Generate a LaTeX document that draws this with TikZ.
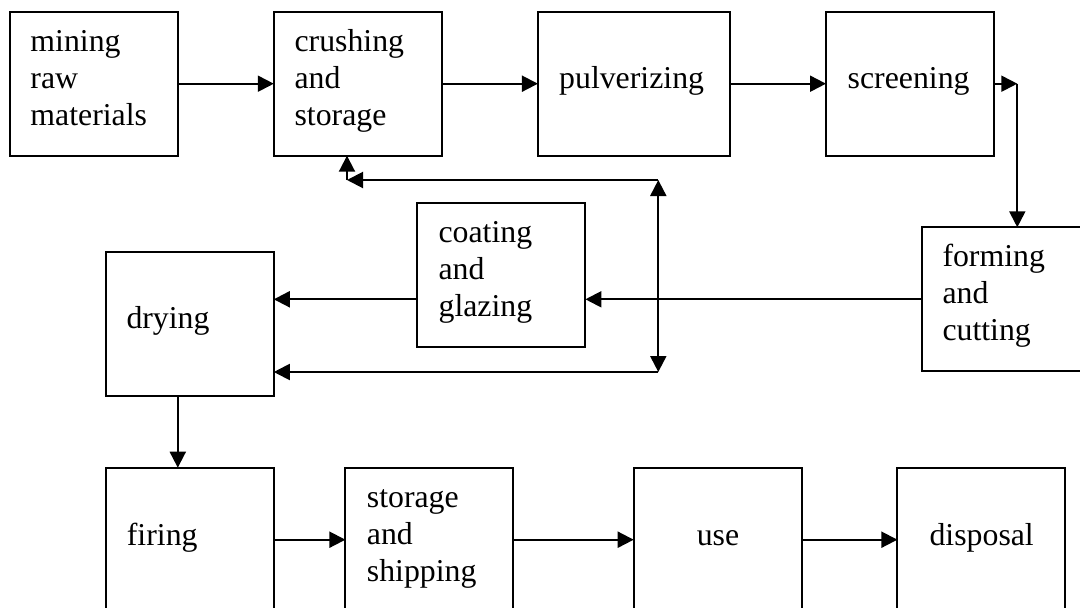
\documentclass[tikz,border=0pt]{standalone}
\usepackage{fontspec}
\setmainfont{Liberation Serif}
\usetikzlibrary{arrows.meta}
\begin{document}
\begin{tikzpicture}[x=1pt,y=-1pt,
  box/.style={draw,line width=2pt,rectangle,minimum width=168pt,minimum height=144pt,inner sep=0pt,outer sep=0pt,anchor=north west},
  lbl/.style={anchor=base west,inner sep=0pt,font=\fontsize{31.8}{37}\selectfont},
  clbl/.style={anchor=base,inner sep=0pt,font=\fontsize{31.8}{37}\selectfont},
  arr/.style={line width=2pt,-{Triangle[length=16pt,width=16pt]}},
  darr/.style={line width=2pt,{Triangle[length=16pt,width=16pt]}-{Triangle[length=16pt,width=16pt]}}]
\useasboundingbox (0,0) rectangle (1080,608);
\clip (0,0) rectangle (1080,608);
% boxes
\node[box] (mining) at (9.6,11.7) {};
\node[box] (crushing) at (273.8,11.7) {};
\node[box,minimum width=192pt] (pulverizing) at (537.9,11.7) {};
\node[box] (screening) at (826,11.7) {};
\node[box] (coating) at (417.4,203.3) {};
\node[box] (drying) at (105.8,251.7) {};
\node[box,minimum width=200pt] (forming) at (921.7,227.3) {};
\node[box] (firing) at (105.7,467.7) {};
\node[box] (storage) at (345.4,467.7) {};
\node[box] (use) at (633.7,467.7) {};
\node[box] (disposal) at (897.4,467.7) {};
% texts
\node[lbl] (mining-t) at (30.3,51.4) {\vtop{\hbox{mining}\hbox{raw}\hbox{materials}}};
\node[lbl] (crushing-t) at (294.4,51.4) {\vtop{\hbox{crushing}\hbox{and}\hbox{storage}}};
\node[lbl] (pulverizing-t) at (559,88.3) {pulverizing};
\node[lbl] (screening-t) at (847.5,88.3) {screening};
\node[lbl] (coating-t) at (438.4,242.6) {\vtop{\hbox{coating}\hbox{and}\hbox{glazing}}};
\node[lbl] (drying-t) at (126.3,328.5) {drying};
\node[lbl] (forming-t) at (942.3,266.5) {\vtop{\hbox{forming}\hbox{and}\hbox{cutting}}};
\node[lbl] (firing-t) at (126.7,545) {firing};
\node[lbl] (storage-t) at (366.7,507) {\vtop{\hbox{storage}\hbox{and}\hbox{shipping}}};
\node[clbl] (use-t) at (718,545) {use};
\node[clbl] (disposal-t) at (981.7,545) {disposal};
% connector points
\coordinate (sc) at (1017.3,83.7);
\coordinate (vt) at (658.3,180);
\coordinate (vb) at (658.3,372);
\coordinate (fb) at (347,180);
% connectors
\draw[arr] (mining.east) -- (crushing.west);
\draw[arr] (crushing.east) -- (pulverizing.west);
\draw[arr] (pulverizing.east) -- (screening.west);
\draw[arr] (screening.east) -- (sc);
\draw[arr] (sc) -- (sc |- forming.north);
\draw[arr] (forming.west) -- (coating.east |- forming.west);
\draw[arr] (coating.west |- forming.west) -- (drying.east |- forming.west);
\draw[darr] (vt) -- (vb);
\draw[arr] (vt) -- (fb);
\draw[arr] (fb) -- (fb |- crushing.south);
\draw[arr] (vb) -- (drying.east |- vb);
\draw[arr] ([xshift=-12pt]drying.south) -- ([xshift=-12pt]drying.south |- firing.north);
\draw[arr] (firing.east) -- (storage.west);
\draw[arr] (storage.east) -- (use.west);
\draw[arr] (use.east) -- (disposal.west);
\end{tikzpicture}
\end{document}
